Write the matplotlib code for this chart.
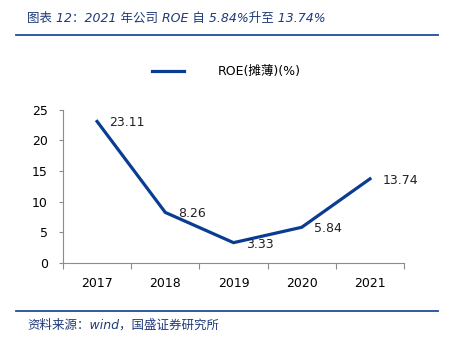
import matplotlib
matplotlib.use('Agg')
import matplotlib.pyplot as plt
from matplotlib.lines import Line2D

# ROE (diluted) by year
years = ['2017', '2018', '2019', '2020', '2021']
roe = [23.11, 8.26, 3.33, 5.84, 13.74]

title = '图表 12：2021 年公司 ROE 自 5.84%升至 13.74%'
source = '资料来源：wind，国盛证券研究所'
series_name = 'ROE(摊薄)(%)'

fonts = ['DejaVu Sans', 'Noto Sans CJK SC']
plt.rcParams['font.family'] = fonts

line_color = '#0A3D91'
frame_blue = '#1F4E9A'
text_blue = '#1F3A78'

fig = plt.figure(figsize=(4.53, 3.39), dpi=100)
ax = fig.add_axes([0.139, 0.224, 0.753, 0.452])

x = list(range(len(years)))
ax.plot(x, roe, color=line_color, linewidth=2.3, solid_joinstyle='miter', label=series_name)

# value labels to the right of each point
for xi, v in zip(x, roe):
    ax.annotate(f'{v:.2f}', (xi, v), xytext=(9, -1), textcoords='offset points',
                ha='left', va='center', fontsize=9, color='#222222')

ax.set_xlim(-0.5, len(years) - 0.5)
ax.set_ylim(0, 25)
ax.set_yticks([0, 5, 10, 15, 20, 25])

# tick marks between categories, labels centred under them
ax.set_xticks([i - 0.5 for i in range(len(years) + 1)])
ax.set_xticklabels([])
ax.set_xticks(x, minor=True)
ax.set_xticklabels(years, minor=True)
ax.tick_params(axis='x', which='major', length=4, color='#8c8c8c', direction='out')
ax.tick_params(axis='x', which='minor', length=0, pad=10, labelsize=9)
ax.tick_params(axis='y', length=3, color='#8c8c8c', pad=8, labelsize=9)

for side in ['top', 'right']:
    ax.spines[side].set_visible(False)
for side in ['left', 'bottom']:
    ax.spines[side].set_color('#8c8c8c')
    ax.spines[side].set_linewidth(0.8)

leg = fig.legend(loc='center', bbox_to_anchor=(0.5, 0.788), frameon=False,
                 fontsize=9, handlelength=2.6, handletextpad=2.7)

fig.text(0.06, 0.947, title, fontsize=9, style='italic', color=text_blue,
         ha='left', va='center', family=fonts)
fig.text(0.06, 0.041, source, fontsize=9, style='italic', color=text_blue,
         ha='left', va='center', family=fonts)

fig.add_artist(Line2D([0.035, 0.967], [0.897, 0.897], transform=fig.transFigure,
                      color=frame_blue, linewidth=1.3))
fig.add_artist(Line2D([0.035, 0.967], [0.082, 0.082], transform=fig.transFigure,
                      color=frame_blue, linewidth=1.3))

fig.savefig('out.png', dpi=100)
